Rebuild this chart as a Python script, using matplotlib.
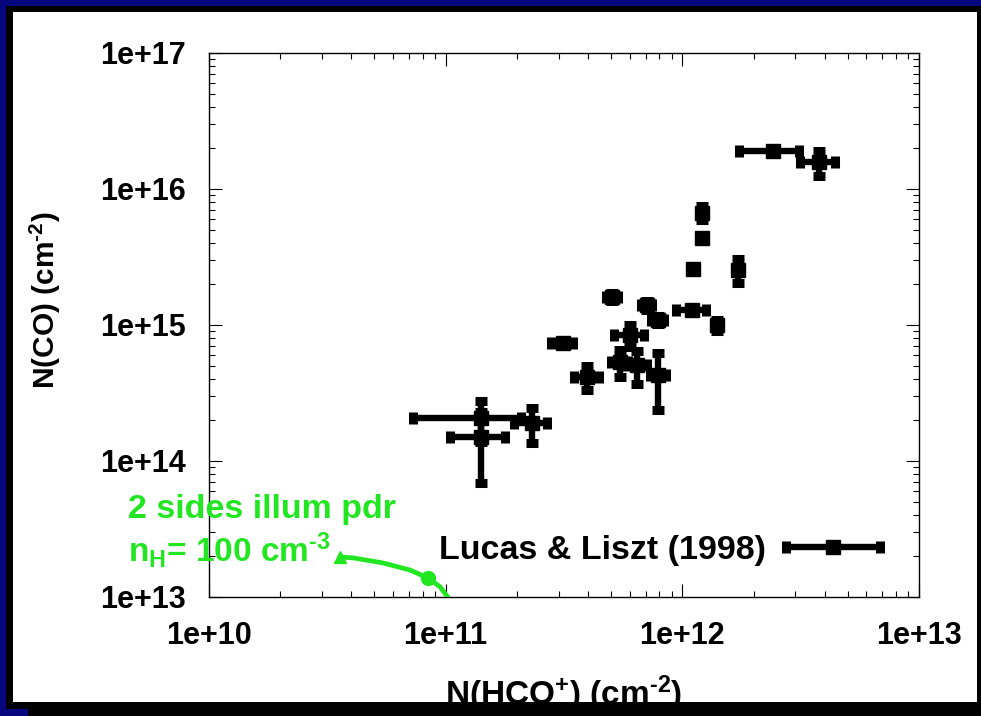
import matplotlib
matplotlib.use("Agg")
import matplotlib.pyplot as plt
from matplotlib.patches import Rectangle
from matplotlib.legend_handler import HandlerErrorbar
from matplotlib.container import ErrorbarContainer
import numpy as np

plt.rcParams['font.family'] = ['Liberation Sans', 'DejaVu Sans']
plt.rcParams['font.weight'] = 'bold'
plt.rcParams['mathtext.fontset'] = 'custom'
plt.rcParams['mathtext.rm'] = 'Liberation Sans:bold'
plt.rcParams['mathtext.bf'] = 'Liberation Sans:bold'
plt.rcParams['mathtext.it'] = 'Liberation Sans:bold'

# ---- data: Lucas & Liszt (1998) ----
n_hco = [1.41e11, 1.41e11, 2.32e11, 5.05e11, 7.08e11, 7.89e11, 1.10e12, 1.40e12,
         6.01e11, 3.13e11, 3.95e11, 5.45e11, 6.43e11, 7.89e11, 2.42e12, 3.78e12,
         1.21e12, 1.21e12, 1.11e12, 1.72e12]
n_hco_err = [6.8e10, 3.7e10, 3.7e10, 3.0e10, 4.0e10, 5.0e10, 1.6e11, 0.0,
             8.5e10, 3.3e10, 4.8e10, 4.7e10, 6.6e10, 6.0e10, 6.8e11, 6.5e11,
             0.0, 0.0, 0.0, 0.0]
n_co = [2.07e14, 1.50e14, 1.90e14, 1.61e15, 1.40e15, 1.09e15, 1.29e15, 1.00e15,
        8.44e14, 7.38e14, 4.15e14, 5.35e14, 5.08e14, 4.29e14, 1.90e16, 1.58e16,
        6.67e15, 4.37e15, 2.58e15, 2.54e15]
n_co_err = [6.9e13, 8.1e13, 5.5e13, 1.2e14, 1.0e14, 8.0e13, 0.0, 9.0e13,
            1.5e14, 0.0, 8.5e13, 1.2e14, 1.4e14, 1.9e14, 0.0, 3.3e15,
            8.0e14, 0.0, 0.0, 5.2e14]

# ---- model: 2 sides illuminated PDR, nH = 100 cm^-3 ----
pdr_hco = [3.57e10, 4.06e10, 5.43e10, 7.06e10, 8.41e10, 9.46e10, 1.02e11, 1.09e11]
pdr_co = [1.97e13, 1.94e13, 1.78e13, 1.58e13, 1.38e13, 1.19e13, 1.00e13, 8.4e12]

x_ticks = [1e10, 1e11, 1e12, 1e13]
x_tick_labels = ['1e+10', '1e+11', '1e+12', '1e+13']
y_ticks = [1e13, 1e14, 1e15, 1e16, 1e17]
y_tick_labels = ['1e+13', '1e+14', '1e+15', '1e+16', '1e+17']

W, H = 981, 716
fig = plt.figure(figsize=(W / 100, H / 100), dpi=100, facecolor='black')

navy = '#06067f'
fig.patches.append(Rectangle((0, 1 - 6 / H), 1, 6 / H, transform=fig.transFigure,
                             facecolor=navy, edgecolor='none', zorder=-10))
fig.patches.append(Rectangle((0, 0), 6 / W, 1, transform=fig.transFigure,
                             facecolor=navy, edgecolor='none', zorder=-10))
fig.patches.append(Rectangle((0, 0), 28 / W, 7 / H, transform=fig.transFigure,
                             facecolor=navy, edgecolor='none', zorder=-10))
fig.patches.append(Rectangle((13 / W, 1 - 702 / H), (977 - 13) / W, (702 - 12) / H,
                             transform=fig.transFigure, facecolor='white',
                             edgecolor='none', zorder=-9))

ax = fig.add_axes([209 / W, 1 - 597 / H, (919 - 209) / W, (597 - 53) / H])
ax.set_facecolor('none')
ax.set_xscale('log')
ax.set_yscale('log')
ax.set_xlim(1e10, 1e13)
ax.set_ylim(1e13, 1e17)

eb_style = dict(fmt='s', color='black', markersize=10, elinewidth=4.6,
                capsize=4.6, capthick=6.5)
obs = ax.errorbar(n_hco, n_co, xerr=n_hco_err, yerr=n_co_err, zorder=3, clip_on=False,
                  label='Lucas & Liszt (1998)', **eb_style)

green = '#22e622'
ax.plot(pdr_hco, pdr_co, color=green, lw=3.4, zorder=4, solid_capstyle='round')
ax.plot(pdr_hco[:1], pdr_co[:1], marker='^', color=green, markersize=9, ls='none', zorder=4)
ax.plot(pdr_hco[4:5], pdr_co[4:5], marker='o', color=green, markersize=10, ls='none', zorder=4)

ax.set_xticks(x_ticks)
ax.set_xticklabels(x_tick_labels)
ax.set_yticks(y_ticks)
ax.set_yticklabels(y_tick_labels)
ax.tick_params(which='both', direction='in', top=True, right=True, colors='black',
               width=0.8)
ax.tick_params(which='major', length=9.4, labelsize=22)
ax.tick_params(which='minor', length=4.3)
ax.tick_params(axis='x', which='major', pad=17)
ax.tick_params(axis='y', which='major', pad=17)
for lab in ax.get_xticklabels() + ax.get_yticklabels():
    lab.set_fontweight('bold')
for sp in ax.spines.values():
    sp.set_linewidth(1.0)
    sp.set_color('black')

ax.set_xlabel('N(HCO$^{+}$) (cm$^{\u20102}$)', fontsize=24, fontweight='bold')
ax.xaxis.set_label_coords(0.5, -(694 - 597) / 544, transform=ax.transAxes)
ax.xaxis.label.set_va('center')
ax.set_ylabel('N(CO) (cm$^{\u20102}$)', fontsize=21.5, fontweight='bold')
ax.yaxis.set_label_coords(-(209 - 45) / 710, (597 - 300) / 544)
ax.yaxis.label.set_va('center')

leg = ax.legend(handles=[obs], loc='center right', bbox_to_anchor=(0.948, 0.085),
                frameon=False, markerfirst=False, numpoints=1,
                handlelength=2.9, handletextpad=0.5, borderpad=0, borderaxespad=0,
                handler_map={ErrorbarContainer: HandlerErrorbar(xerr_size=1.38, yerr_size=0)},
                prop={'weight': 'bold', 'size': 24.5})

fig.text(128 / W, 1 - 518 / H, '2 sides illum pdr', color=green, fontsize=24.5,
         fontweight='bold', va='baseline', ha='left')
fig.text(128 / W, 1 - 562 / H, 'n$_{\\mathrm{H}}$= 100 cm$^{\u20103}$', color=green,
         fontsize=24, fontweight='bold', va='baseline', ha='left')

fig.savefig('out.png', dpi=100, facecolor=fig.get_facecolor())
